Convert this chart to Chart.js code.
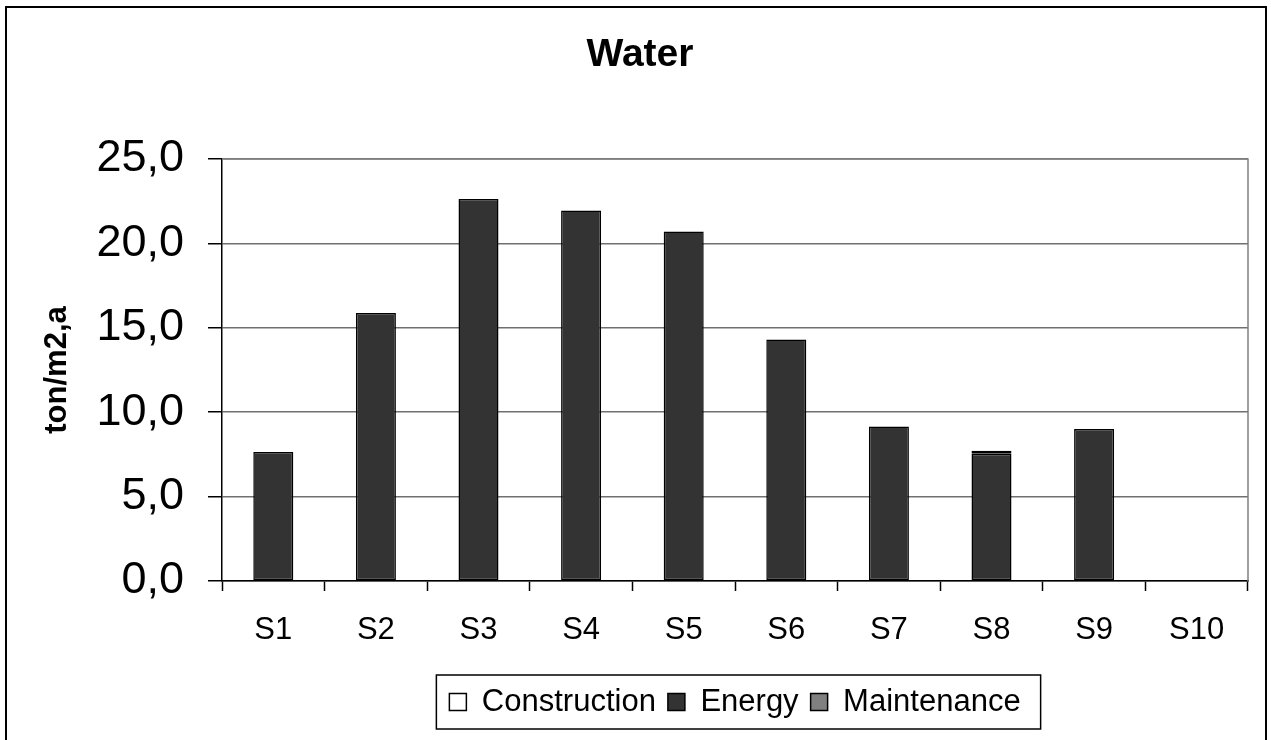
<!DOCTYPE html>
<html>
<head>
<meta charset="utf-8">
<script src="https://cdn.jsdelivr.net/npm/chart.js@4/dist/chart.umd.min.js"></script>
<style>
  html, body { margin: 0; padding: 0; background: #fff; }
  #wrap { position: relative; width: 1271px; height: 740px; }
  #frame { position: absolute; left: 5px; top: 6px; width: 1262px; height: 740px; border: 2px solid #000; box-sizing: border-box; pointer-events: none; }
  canvas { position: absolute; left: 0; top: 0; }
</style>
</head>
<body>
<div id="wrap">
  <canvas id="grafico" width="1271" height="740"></canvas>
  <div id="frame"></div>
</div>
<script>
// dados
const categorias = ['S1', 'S2', 'S3', 'S4', 'S5', 'S6', 'S7', 'S8', 'S9', 'S10'];
const construcao = [0, 0, 0, 0, 0, 0, 0, 0, 0, 0];
const energia = [7.64, 15.87, 22.63, 21.95, 20.71, 14.31, 9.15, 7.54, 9.01, 0];
const manutencao = [0, 0, 0, 0, 0, 0, 0, 0.18, 0, 0];
const ticksY = [0, 5, 10, 15, 20, 25];

const fonte = 'Liberation Sans, Arial, sans-serif';

// moldura da legenda e bordas da área do gráfico
const molduras = {
    id: 'molduras',
    afterDraw(chart) {
        const ctx = chart.ctx;
        const a = chart.chartArea;
        ctx.save();
        ctx.strokeStyle = '#808080';
        ctx.lineWidth = 1.5;
        ctx.beginPath();
        ctx.moveTo(a.left, a.top);
        ctx.lineTo(a.right, a.top);
        ctx.lineTo(a.right, a.bottom);
        ctx.stroke();

        const caixas = chart.legend.legendHitBoxes;
        if (caixas && caixas.length) {
            const esq = Math.min(...caixas.map(c => c.left)) - 13;
            const dir = Math.max(...caixas.map(c => c.left + c.width)) + 20;
            const meio = caixas[0].top + caixas[0].height / 2;
            ctx.strokeStyle = '#000';
            ctx.lineWidth = 1.5;
            ctx.strokeRect(esq, meio - 27, dir - esq, 54);
        }
        ctx.restore();
    }
};

new Chart(document.getElementById('grafico'), {
    type: 'bar',
    data: {
        labels: categorias,
        datasets: [
            { label: 'Construction', data: construcao, backgroundColor: '#ffffff', borderColor: '#000', borderWidth: 1.5 },
            { label: 'Energy', data: energia, backgroundColor: '#333333', borderColor: '#000', borderWidth: 1.5 },
            { label: 'Maintenance', data: manutencao, backgroundColor: '#808080', borderColor: '#000', borderWidth: 1.5 }
        ]
    },
    options: {
        responsive: false,
        animation: false,
        layout: { padding: { left: 14, right: 5, top: 0, bottom: 12.5 } },
        datasets: { bar: { categoryPercentage: 1, barPercentage: 0.39, borderSkipped: false } },
        plugins: {
            title: {
                display: true,
                text: 'Water',
                color: '#000',
                font: { family: fonte, size: 39, weight: 'bold' },
                padding: { top: 31.6, bottom: 80.6 }
            },
            legend: {
                position: 'bottom',
                fullSize: false,
                labels: {
                    color: '#000',
                    font: { family: fonte, size: 31 },
                    boxWidth: 17,
                    boxHeight: 17,
                    padding: 12,
                    generateLabels(chart) {
                        return chart.data.datasets.map((ds, i) => ({
                            text: ds.label,
                            fillStyle: ds.backgroundColor,
                            strokeStyle: '#000',
                            lineWidth: 1.5,
                            fontColor: '#000',
                            datasetIndex: i
                        }));
                    }
                }
            },
            tooltip: { enabled: false }
        },
        scales: {
            x: {
                stacked: true,
                afterFit: (s) => { s.height = 93.5; },
                grid: { offset: true, drawOnChartArea: false, drawTicks: true, tickLength: 10, tickColor: '#000', tickWidth: 1.5 },
                border: { color: '#000', width: 1.5 },
                ticks: { color: '#000', padding: 20.4, font: { family: fonte, size: 31 } }
            },
            y: {
                stacked: true,
                min: 0,
                max: 25,
                afterFit: (s) => { s.width = 208; },
                afterBuildTicks: (s) => { s.ticks = ticksY.map(v => ({ value: v })); },
                grid: { color: '#707070', lineWidth: 1.5, tickColor: '#000', tickLength: 14, tickWidth: 1.5 },
                border: { color: '#000', width: 1.5 },
                ticks: {
                    color: '#000',
                    padding: 24,
                    font: { family: fonte, size: 45 },
                    callback: (v) => v.toFixed(1).replace('.', ',')
                },
                title: {
                    display: true,
                    text: 'ton/m2,a',
                    color: '#000',
                    font: { family: fonte, size: 31, weight: 'bold' },
                    padding: { top: 25, bottom: 0 }
                }
            },
            // eixo vazio só para reservar a margem direita
            y2: {
                position: 'right',
                afterFit: (s) => { s.width = 18; },
                grid: { display: false },
                border: { display: false },
                ticks: { display: false }
            }
        }
    },
    plugins: [molduras]
});
</script>
</body>
</html>
